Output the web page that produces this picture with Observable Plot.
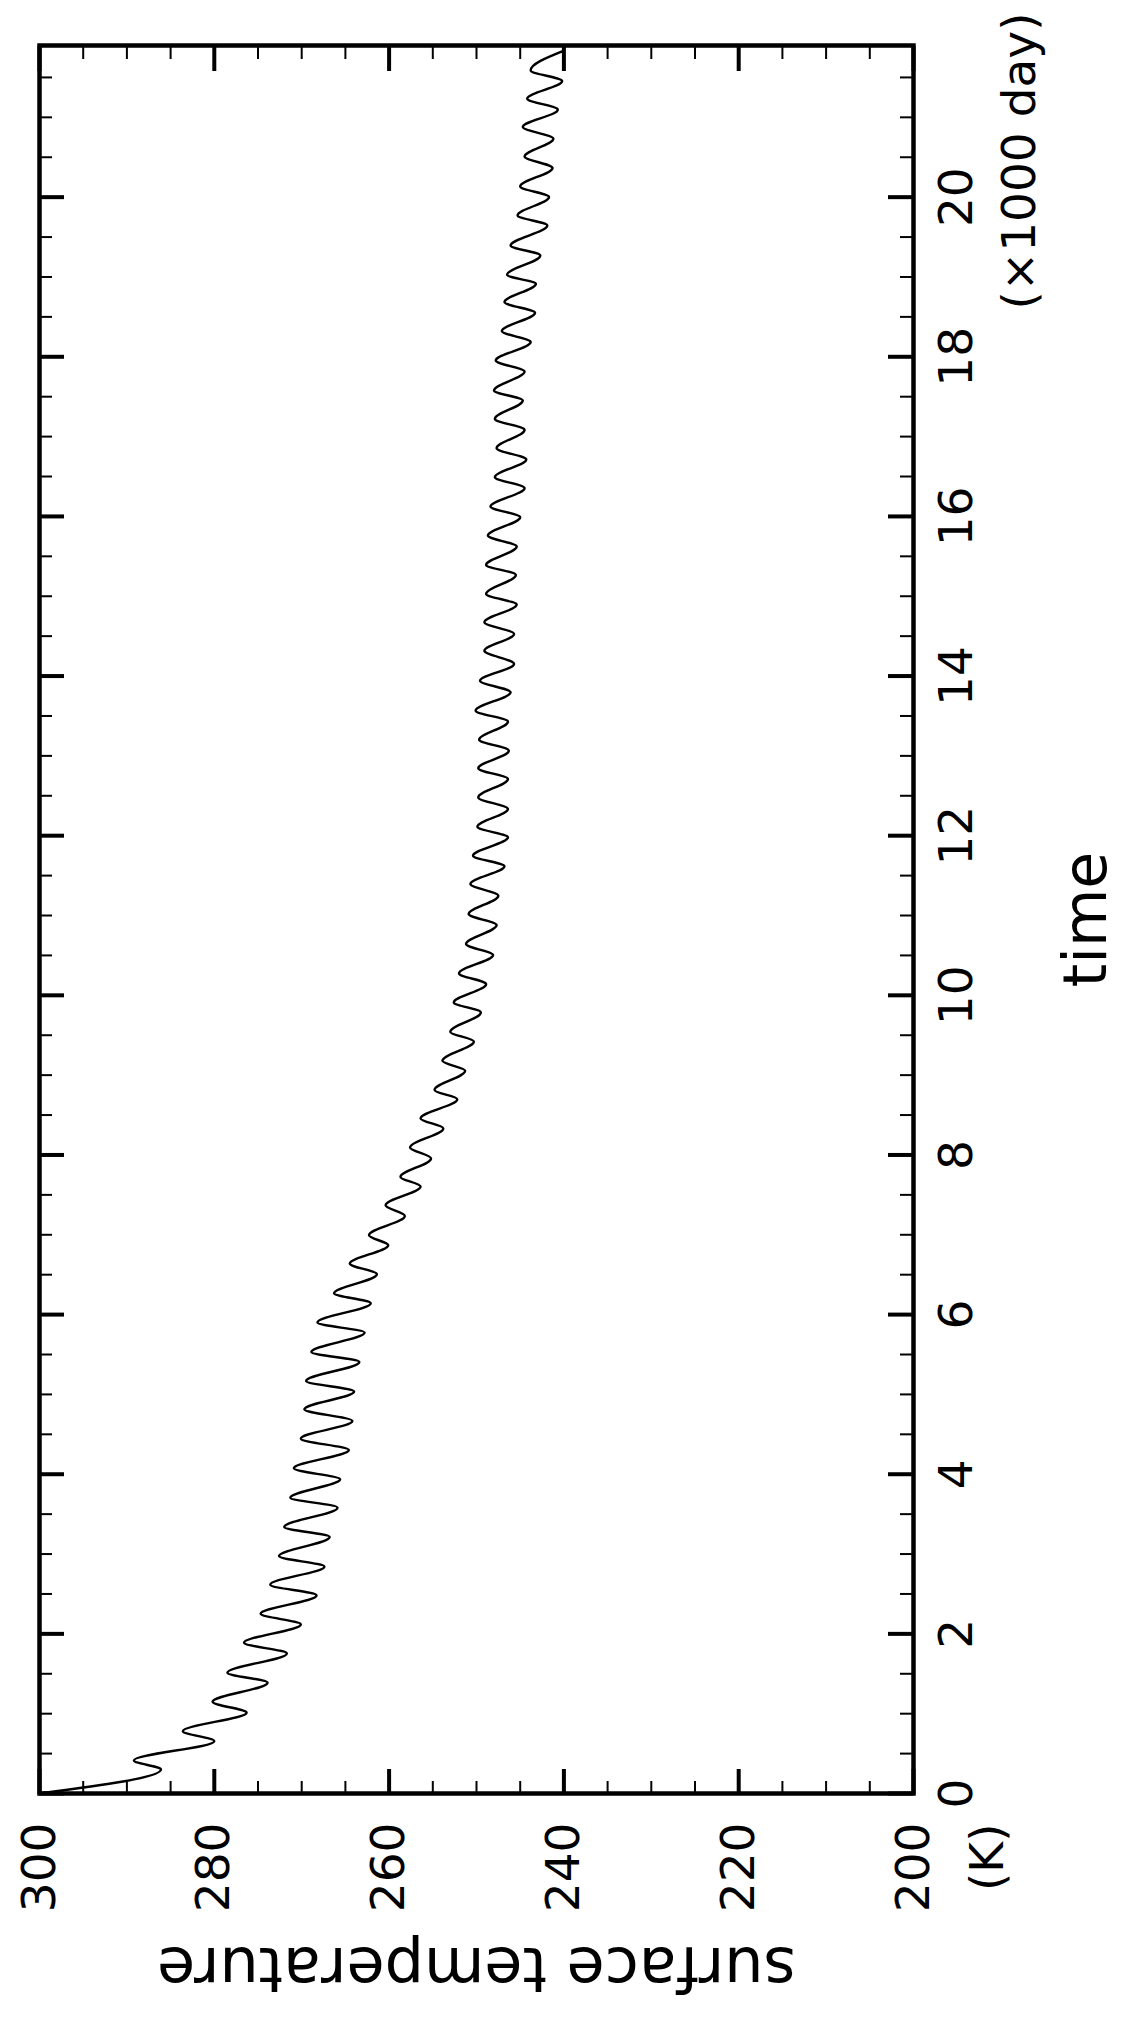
<!DOCTYPE html>
<html><head><meta charset="utf-8">
<script src="https://cdn.jsdelivr.net/npm/d3@7"></script>
<script src="https://cdn.jsdelivr.net/npm/@observablehq/plot@0.6"></script>
<style>
html,body{margin:0;padding:0;background:#fff;}
#wrap{position:relative;width:1121px;height:2019px;overflow:hidden;background:#fff;}
#wrap svg{position:absolute;left:0;top:0;transform-origin:0 0;transform:translate(0px,2019px) rotate(-90deg);max-width:none !important;}
</style></head><body><div id="wrap"></div>
<script>
// time (days) and surface temperature (K), read at the annual turning points
const timeDays = [0,301,414,656,781,1012,1149,1388,1513,1755,1889,2118,2252,2482,2616,2842,2974,3213,3338,3581,3706,
3936,4074,4303,4446,4667,4813,5035,5168,5406,5531,5775,5900,6142,6267,6505,6639,6869,6994,7236,7370,7605,7725,
7956,8094,8332,8457,8699,8815,9054,9179,9422,9542,9786,9911,10140,10275,10504,10642,10880,11018,11247,11394,
11616,11749,11979,12112,12334,12480,12710,12844,13065,13203,13428,13566,13797,13942,14151,14318,14527,14674,
14895,15029,15267,15392,15622,15760,15990,16123,16354,16492,16712,16855,17084,17222,17452,17577,17815,17953,
18184,18322,18551,18685,18914,19027,19269,19394,19645,19771,20001,20134,20365,20510,20732,20879,21096,21233,
21455,21588,21826];
const tempK = [300,286.1,289.2,280.0,283.6,276.3,280.2,273.9,278.5,271.7,276.6,270.1,274.7,268.3,273.6,267.4,272.6,266.8,272.0,265.9,271.3,
265.6,270.9,264.6,270.1,264.2,269.7,264.0,269.5,263.4,268.9,262.8,268.2,262.1,266.3,261.4,264.5,260.1,262.3,258.2,260.4,256.4,258.7,
255.2,257.6,253.8,256.4,252.2,254.8,251.3,253.9,250.3,253.0,249.5,252.6,248.9,252.0,248.1,251.2,247.7,250.9,247.5,250.7,
246.8,250.4,246.4,249.9,246.4,249.8,246.4,249.8,246.3,249.7,246.4,250.1,246.1,249.6,245.7,249.1,245.7,249.1,
245.4,248.9,245.5,248.9,245.4,248.7,245.0,248.4,244.5,247.9,244.3,247.7,244.5,247.9,244.7,248.0,244.5,247.8,
243.8,247.1,243.3,246.8,243.2,246.5,242.7,246.1,241.9,245.3,241.7,245.0,241.3,244.5,241.2,244.7,240.7,244.2,
240.2,243.8,240.2];

const timeMajorTicks = [0,2000,4000,6000,8000,10000,12000,14000,16000,18000,20000];
const timeTickLabels = ["0","2","4","6","8","10","12","14","16","18","20"];
const timeMinorTicks = [500,1000,1500,2500,3000,3500,4500,5000,5500,6500,7000,7500,8500,9000,9500,10500,11000,11500,
12500,13000,13500,14500,15000,15500,16500,17000,17500,18500,19000,19500,20500,21000,21500];
const tempMajorTicks = [200,220,240,260,280,300];
const tempTickLabels = ["200","220","240","260","280","300"];
const tempMinorTicks = [205,210,215,225,230,235,245,250,255,265,270,275,285,290,295];
const timeDomain = [0,21900];
const tempDomain = [200,300];
const xTitle = "time";
const xUnit = "(×1000 day)";
const yTitle = "surface temperature";
const yUnit = "(K)";

const W = 2019, H = 1121, mL = 225, mR = 46, mT = 39, mB = 208;
const pW = W - mL - mR, pH = H - mT - mB;
const majorLen = 25, minorLen = 13;
const data = timeDays.map((t, i) => ({t, T: tempK[i]}));
const FS = 47;

const chart = Plot.plot({
  width: W, height: H,
  marginLeft: mL, marginRight: mR, marginTop: mT, marginBottom: mB,
  style: {fontFamily: "'DejaVu Sans', sans-serif", background: "white", color: "black", overflow: "visible"},
  x: {domain: timeDomain, axis: null},
  y: {domain: tempDomain, axis: null},
  marks: [
    Plot.line(data, {x: "t", y: "T", curve: "monotone-x", stroke: "black", strokeWidth: 2.4}),
    // time ticks (bottom & top of unrotated frame)
    Plot.tickX(timeMajorTicks, {x: d => d, insetTop: pH - majorLen, stroke: "black", strokeWidth: 4}),
    Plot.tickX(timeMajorTicks, {x: d => d, insetBottom: pH - majorLen, stroke: "black", strokeWidth: 4}),
    Plot.tickX(timeMinorTicks, {x: d => d, insetTop: pH - minorLen, stroke: "black", strokeWidth: 2}),
    Plot.tickX(timeMinorTicks, {x: d => d, insetBottom: pH - minorLen, stroke: "black", strokeWidth: 2}),
    // temperature ticks (left & right of unrotated frame)
    Plot.tickY(tempMajorTicks, {y: d => d, insetRight: pW - majorLen, stroke: "black", strokeWidth: 4}),
    Plot.tickY(tempMajorTicks, {y: d => d, insetLeft: pW - majorLen, stroke: "black", strokeWidth: 4}),
    Plot.tickY(tempMinorTicks, {y: d => d, insetRight: pW - minorLen, stroke: "black", strokeWidth: 2}),
    Plot.tickY(tempMinorTicks, {y: d => d, insetLeft: pW - minorLen, stroke: "black", strokeWidth: 2}),
    Plot.frame({stroke: "black", strokeWidth: 4.5}),
    // tick labels
    Plot.text(timeMajorTicks, {x: d => d, text: (d, i) => timeTickLabels[i], frameAnchor: "bottom", textAnchor: "middle", lineAnchor: "middle", dy: 43, fontSize: FS, fill: "black"}),
    Plot.text(tempMajorTicks, {y: d => d, text: (d, i) => tempTickLabels[i], frameAnchor: "left", textAnchor: "end", lineAnchor: "middle", dx: -29, fontSize: FS, fill: "black"}),
    Plot.text([yUnit], {y: [tempDomain[0]], text: d => d, frameAnchor: "left", textAnchor: "end", lineAnchor: "middle", dx: -30, dy: 74, fontSize: FS, fill: "black"}),
    Plot.text([xUnit], {text: d => d, frameAnchor: "bottom-right", textAnchor: "end", lineAnchor: "middle", dx: 33, dy: 106, fontSize: FS, fill: "black"}),
    // axis titles
    Plot.text([xTitle], {text: d => d, frameAnchor: "bottom", textAnchor: "middle", lineAnchor: "bottom", dy: 192, fontSize: 60, fill: "black"}),
    Plot.text([yTitle], {text: d => d, frameAnchor: "left", textAnchor: "middle", rotate: -90, lineAnchor: "bottom", dx: -154, fontSize: 62, fill: "black"})
  ]
});
chart.style.maxWidth = "none";
document.getElementById("wrap").appendChild(chart);
</script>
</body></html>
